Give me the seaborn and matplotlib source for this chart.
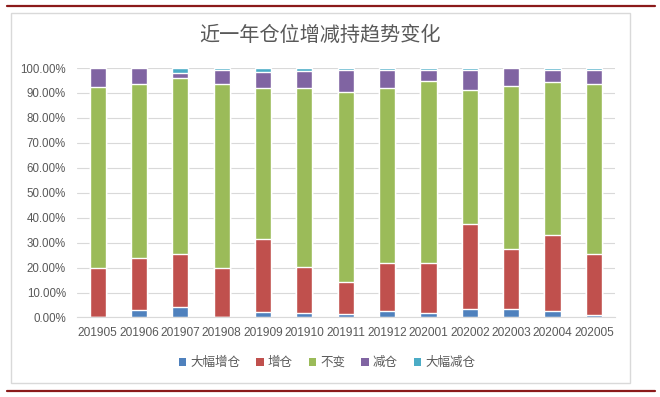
import matplotlib
matplotlib.use('Agg')
import pandas as pd
import seaborn as sns
import matplotlib.pyplot as plt
from matplotlib.ticker import PercentFormatter, MultipleLocator
from matplotlib.patches import Rectangle, Patch
from matplotlib.lines import Line2D

sns.set_style('white')
plt.rcParams['font.family'] = ['Liberation Sans', 'Noto Sans CJK SC']

months = ['201905', '201906', '201907', '201908', '201909', '201910', '201911',
          '201912', '202001', '202002', '202003', '202004', '202005']
series = ['大幅增仓', '增仓', '不变', '减仓', '大幅减仓']
colors = ['#4F81BD', '#C0504D', '#9BBB59', '#8064A2', '#4BACC6']

# share of funds in each group, percent
big_up = [0.0, 2.8, 4.1, 0.0, 2.1, 1.9, 1.3, 2.4, 1.6, 3.5, 3.3, 2.4, 1.1]
up = [19.7, 21.0, 21.3, 19.9, 29.2, 18.3, 12.8, 19.4, 20.2, 33.8, 24.1, 30.8, 24.3]
same = [72.7, 69.8, 70.6, 73.7, 60.5, 71.9, 76.1, 70.3, 72.8, 53.7, 65.5, 61.2, 68.2]
down = [7.6, 6.4, 2.0, 5.5, 6.5, 6.6, 8.9, 7.0, 4.5, 8.3, 7.1, 4.7, 5.7]
big_down = [0.0, 0.0, 2.0, 0.9, 1.7, 1.3, 0.9, 0.9, 0.9, 0.7, 0.0, 0.9, 0.7]

df = pd.DataFrame({'month': months, '大幅增仓': big_up, '增仓': up,
                   '不变': same, '减仓': down, '大幅减仓': big_down})
cum = df[series].cumsum(axis=1) / 100.0

fig = plt.figure(figsize=(6.6, 3.97), dpi=100)
ax = fig.add_axes([0.1167, 0.2003, 0.8144, 0.6284])

# stack by drawing cumulative totals from the top series down
for name, col in reversed(list(zip(series, colors))):
    sns.barplot(x=df['month'], y=cum[name], color=col, saturation=1,
                width=0.39, order=months, ax=ax)

ax.set_ylim(0, 1.0)
ax.yaxis.set_major_locator(MultipleLocator(0.1))
ax.yaxis.set_major_formatter(PercentFormatter(1.0, decimals=2))
ax.set_xlabel('')
ax.set_ylabel('')
ax.grid(axis='y', color='#D9D9D9', lw=0.8)
ax.set_axisbelow(True)
for s in ['top', 'right', 'left']:
    ax.spines[s].set_visible(False)
ax.spines['bottom'].set_color('#D9D9D9')
ax.tick_params(axis='both', length=0, colors='#595959')
ax.tick_params(axis='x', pad=7, labelsize=8.6)
ax.tick_params(axis='y', pad=8, labelsize=8.3)

# outer chart frame and dark red rules
fig.patches.append(Rectangle((11 / 660, 1 - 383 / 397), 619 / 660, 370 / 397,
                             transform=fig.transFigure, fill=False,
                             edgecolor='#D9D9D9', lw=1))
for yy in [5.7, 390.7]:
    fig.lines.append(Line2D([7 / 660, 655 / 660], [1 - yy / 397] * 2,
                            transform=fig.transFigure, color='#8B1A1A', lw=1.6))

fig.text(0.485, 1 - 35 / 397, '近一年仓位增减持趋势变化', ha='center', va='center',
         fontsize=14.5, color='#595959', family=['Noto Sans CJK SC'])

handles = [Patch(facecolor=c, edgecolor='none') for c in colors]
fig.legend(handles, series, loc='center', bbox_to_anchor=(327 / 660, 1 - 362.7 / 397),
           ncol=5, frameon=False, handlelength=0.6, handleheight=0.6,
           handletextpad=0.3, columnspacing=1.3, labelcolor='#595959',
           prop={'family': ['Noto Sans CJK SC'], 'size': 9})

fig.savefig('out.png', dpi=100)
